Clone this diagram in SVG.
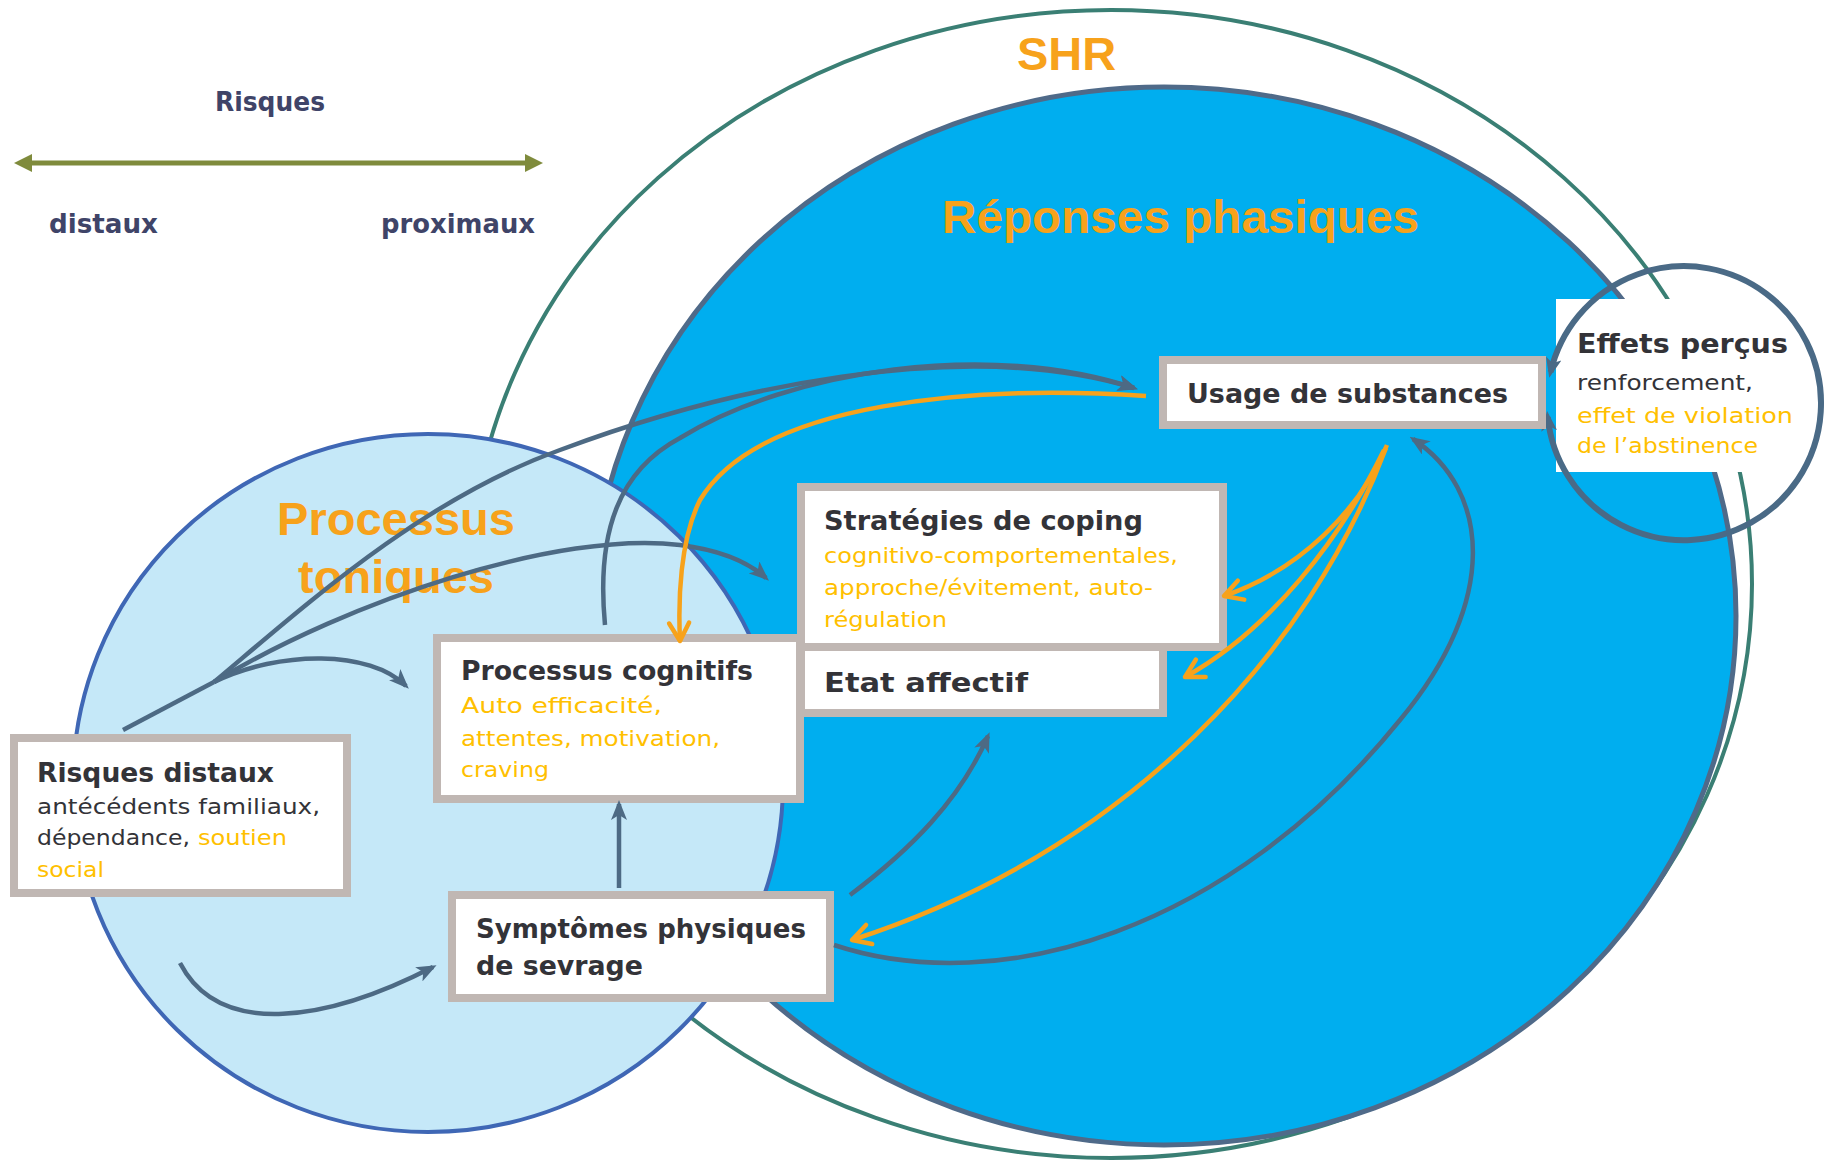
<svg xmlns="http://www.w3.org/2000/svg" width="1827" height="1161" viewBox="0 0 1827 1161">
<style>
.box{fill:#fff;stroke:#C0B7B3;stroke-width:8}
.bt{font-family:"DejaVu Sans","Noto Sans",sans-serif;font-weight:bold;font-size:27px;fill:#333338}
.rt{font-family:"DejaVu Sans","Noto Sans",sans-serif;font-size:22px;fill:#333338}
.ot{font-family:"DejaVu Sans","Noto Sans",sans-serif;font-size:22px;fill:#FFC000}
.ttl{font-family:"Liberation Sans",Arial,sans-serif;font-weight:bold;font-size:47px;fill:#F7A21B}
.leg{font-family:"DejaVu Sans","Noto Sans",sans-serif;font-weight:bold;font-size:27px;fill:#3F4468}
.sl{fill:none;stroke:#4D6A84;stroke-width:4.5;marker-end:url(#ah)}
.sn{fill:none;stroke:#4D6A84;stroke-width:4.5}
.or{fill:none;stroke:#F7A21B;stroke-width:4.5;marker-end:url(#oh)}
</style>
<defs>
<marker id="ah" viewBox="0 0 20 16" markerWidth="20" markerHeight="16" refX="16" refY="8" orient="auto" markerUnits="userSpaceOnUse">
<path d="M0,0 L20,8 L0,16 L5,8 z" fill="#4D6A84"/>
</marker>
<marker id="oh" viewBox="0 0 24 26" markerWidth="24" markerHeight="26" refX="21" refY="13" orient="auto" markerUnits="userSpaceOnUse">
<path d="M3,3 L21,13 L3,23" fill="none" stroke="#F7A21B" stroke-width="4.5" stroke-linecap="round" stroke-linejoin="round"/>
</marker>
<marker id="ch" viewBox="0 0 20 16" markerWidth="20" markerHeight="16" refX="14" refY="8" orient="auto-start-reverse" markerUnits="userSpaceOnUse">
<path d="M0,0 L20,8 L0,16 L5,8 z" fill="#4A6A86"/>
</marker>
</defs>
<rect width="1827" height="1161" fill="#fff"/>

<g id="shr">
<ellipse cx="1111" cy="584" rx="641" ry="574" fill="none" stroke="#3A7F74" stroke-width="4"/>
<text class="ttl" x="1017" y="70" textLength="99" lengthAdjust="spacingAndGlyphs">SHR</text>
</g>

<g id="reponses-phasiques">
<ellipse cx="1164" cy="616" rx="572" ry="529" fill="#00AEEF" stroke="#4F6A89" stroke-width="5"/>
<text class="ttl" x="942" y="233" textLength="477" lengthAdjust="spacingAndGlyphs">Réponses phasiques</text>
</g>

<g id="processus-toniques">
<ellipse cx="428" cy="783" rx="355" ry="349" fill="#C5E8F8" stroke="#3F67B5" stroke-width="4"/>
<text class="ttl" x="396" y="535" text-anchor="middle">Processus</text>
<text class="ttl" x="396" y="593" text-anchor="middle">toniques</text>
</g>

<g id="legende">
<line x1="30" y1="163" x2="527" y2="163" stroke="#7F8B3C" stroke-width="5"/>
<polygon points="14,163 32,154 32,172" fill="#7F8B3C"/>
<polygon points="543,163 525,154 525,172" fill="#7F8B3C"/>
<text class="leg" x="215" y="111" textLength="110" lengthAdjust="spacingAndGlyphs">Risques</text>
<text class="leg" x="49" y="233" textLength="109" lengthAdjust="spacingAndGlyphs">distaux</text>
<text class="leg" x="381" y="233" textLength="154" lengthAdjust="spacingAndGlyphs">proximaux</text>
</g>

<g id="effets-percus">
<rect x="1556" y="299" width="250" height="173" fill="#fff"/>
<path d="M1550.6,372 A137,137 0 1 1 1547.7,417" fill="none" stroke="#4A6A86" stroke-width="6" marker-start="url(#ch)" marker-end="url(#ch)"/>
<text class="bt" x="1577" y="353" textLength="211" lengthAdjust="spacingAndGlyphs">Effets perçus</text>
<text class="rt" x="1577" y="390" textLength="176" lengthAdjust="spacingAndGlyphs">renforcement,</text>
<text class="ot" x="1577" y="423" textLength="216" lengthAdjust="spacingAndGlyphs">effet de violation</text>
<text class="ot" x="1577" y="453" textLength="181" lengthAdjust="spacingAndGlyphs">de l’abstinence</text>
</g>

<g id="usage">
<rect class="box" x="1163" y="360" width="379" height="65"/>
<text class="bt" x="1187" y="403" textLength="321" lengthAdjust="spacingAndGlyphs">Usage de substances</text>
</g>

<g id="strategies">
<rect class="box" x="801" y="487" width="422" height="160"/>
<text class="bt" x="824" y="530" textLength="319" lengthAdjust="spacingAndGlyphs">Stratégies de coping</text>
<text class="ot" x="824" y="563" textLength="354" lengthAdjust="spacingAndGlyphs">cognitivo-comportementales,</text>
<text class="ot" x="824" y="595" textLength="329" lengthAdjust="spacingAndGlyphs">approche/évitement, auto-</text>
<text class="ot" x="824" y="627" textLength="123" lengthAdjust="spacingAndGlyphs">régulation</text>
</g>

<g id="etat">
<rect class="box" x="801" y="647" width="362" height="66"/>
<text class="bt" x="824" y="692" textLength="204" lengthAdjust="spacingAndGlyphs">Etat affectif</text>
</g>

<g id="cognitifs">
<rect class="box" x="437" y="638" width="363" height="161"/>
<text class="bt" x="461" y="680" textLength="292" lengthAdjust="spacingAndGlyphs">Processus cognitifs</text>
<text class="ot" x="461" y="713" textLength="201" lengthAdjust="spacingAndGlyphs">Auto efficacité,</text>
<text class="ot" x="461" y="746" textLength="259" lengthAdjust="spacingAndGlyphs">attentes, motivation,</text>
<text class="ot" x="461" y="777" textLength="88" lengthAdjust="spacingAndGlyphs">craving</text>
</g>

<g id="risques-distaux">
<rect class="box" x="14" y="738" width="333" height="155"/>
<text class="bt" x="37" y="782" textLength="237" lengthAdjust="spacingAndGlyphs">Risques distaux</text>
<text class="rt" x="37" y="814" textLength="283" lengthAdjust="spacingAndGlyphs">antécédents familiaux,</text>
<text class="rt" x="37" y="845" textLength="153" lengthAdjust="spacingAndGlyphs">dépendance,</text>
<text class="ot" x="198" y="845" textLength="89" lengthAdjust="spacingAndGlyphs">soutien</text>
<text class="ot" x="37" y="877" textLength="67" lengthAdjust="spacingAndGlyphs">social</text>
</g>

<g id="symptomes">
<rect class="box" x="452" y="895" width="378" height="103"/>
<text class="bt" x="476" y="938" textLength="330" lengthAdjust="spacingAndGlyphs">Symptômes physiques</text>
<text class="bt" x="476" y="975" textLength="167" lengthAdjust="spacingAndGlyphs">de sevrage</text>
</g>

<g id="connecteurs">
<path class="sn" d="M123,730 L214,682"/>
<path class="sl" d="M214,682 C300,610 420,500 560,450 C720,390 960,335 1134,388"/>
<path class="sl" d="M605,625 C596,530 620,470 680,438 C790,370 990,340 1134,388"/>
<path class="sl" d="M214,682 C350,600 560,530 680,545 C720,550 748,562 766,578"/>
<path class="sl" d="M214,682 C280,650 370,650 406,686"/>
<path class="sl" d="M619,888 L619,804"/>
<path class="sl" d="M180,963 C220,1040 330,1020 433,967"/>
<path class="sl" d="M850,895 C910,850 960,800 988,736"/>
<path class="sl" d="M834,945 C1000,1000 1230,930 1400,720 C1500,600 1490,490 1413,439"/>
<path class="or" d="M1146,396 C980,385 760,400 700,500 C680,540 678,600 680,641"/>
<path class="or" d="M1387,445 C1360,510 1300,570 1224,596"/>
<path class="or" d="M1384,450 C1340,540 1270,630 1185,677"/>
<path class="or" d="M1386,448 C1310,650 1130,850 852,940"/>
</g>
</svg>
